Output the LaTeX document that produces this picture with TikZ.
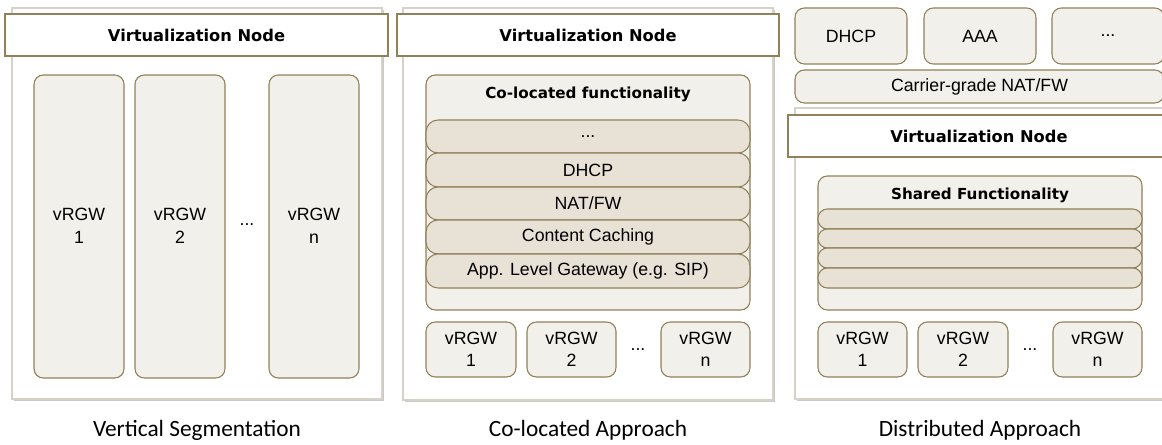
\documentclass[tikz,border=0pt]{standalone}
\usepackage{fontspec}
\setmainfont{Liberation Sans}
\newfontfamily\capfont{Carlito}
\newfontfamily\hdfont{DejaVu Sans}
\usetikzlibrary{fit,shadows,positioning}

\definecolor{brd}{RGB}{146,128,88}
\definecolor{cardfill}{RGB}{242,240,235}
\definecolor{stripfill}{RGB}{231,225,214}
\definecolor{panelline}{RGB}{214,210,200}

\begin{document}
\begin{tikzpicture}[x=0.75pt,y=-0.75pt,
    panel/.style={draw=panelline,fill=white,line width=0.8pt,inner sep=0pt,
        drop shadow={shadow xshift=1.6pt,shadow yshift=-1.6pt,fill=black!30,opacity=0.7}},
    hdr/.style={draw=brd,fill=white,line width=0.8pt,inner sep=0pt,
        label={[font=\hdfont\bfseries\fontsize{12.2}{14}\selectfont,inner sep=0pt]center:#1}},
    sub/.style={font=\hdfont\bfseries\fontsize{11.4}{13}\selectfont,inner sep=0pt},
    txt/.style={font=\fontsize{13.3}{16.8}\selectfont,align=center,inner sep=0pt},
    card/.style={draw=brd,fill=cardfill,line width=0.8pt,inner sep=0pt,
        rounded corners=7pt,label={[txt]center:#1}},
    card/.default={},
    strip/.style={draw=brd,fill=stripfill,line width=0.8pt,inner sep=0pt,
        rounded corners=9pt,label={[txt]center:#1}},
    strip/.default={},
    thin strip/.style={draw=brd,fill=stripfill,line width=0.8pt,inner sep=0pt,
        rounded corners=7pt},
    captxt/.style={font=\capfont\fontsize{17.5}{20}\selectfont,inner sep=0pt}]

    \useasboundingbox (0,0) rectangle (1162,445);

    % vertical segmentation
    \node[panel,fit={(12,8) (382,399)}] (p1) {};
    \node[hdr={Virtualization Node},fit={(5,14) (388,56)}] (h1) {};
    \node[card,fit={(34,75) (124,378)}] (c1) {};
    \node[card,fit={(135,75) (225,378)}] (c2) {};
    \node[card,fit={(269,75) (359,378)}] (c3) {};
    \node[txt] (c1t) at (79,226) {vRGW\\1};
    \node[txt] (c2t) at (180,226) {vRGW\\2};
    \node[txt] (c3t) at (314,226) {vRGW\\n};
    \node[txt] (d1) at (247,225) {...};
    \node[captxt] (cap1) at (197,430) {Vertical Segmentation};

    % co-located approach
    \node[panel,fit={(403,8) (773,400)}] (p2) {};
    \node[hdr={Virtualization Node},fit={(397,14) (779,56)}] (h2) {};
    \node[card,fit={(426,75) (750,310)}] (co) {};
    \node[sub] (cot) at (588,94) {Co-located functionality};
    \node[strip={...},fit={(426,120) (750,153)}] (s1) {};
    \node[strip={DHCP},fit={(426,153) (750,187)}] (s2) {};
    \node[strip={NAT/FW},fit={(426,187) (750,220)}] (s3) {};
    \node[strip={Content Caching},fit={(426,220) (750,254)}] (s4) {};
    \node[strip={App. Level Gateway (e.g. SIP)},fit={(426,254) (750,288)}] (s5) {};
    \node[card,fit={(426,322) (516,377)}] (g1) {};
    \node[card,fit={(527,322) (616,377)}] (g2) {};
    \node[card,fit={(661,322) (750,377)}] (g3) {};
    \node[txt] (g1t) at (g1) {vRGW\\1};
    \node[txt] (g2t) at (g2) {vRGW\\2};
    \node[txt] (g3t) at (g3) {vRGW\\n};
    \node[txt] (d2) at (638,350) {...};
    \node[captxt] (cap2) at (588,430) {Co-located Approach};

    % distributed approach
    \node[card={DHCP},fit={(795,8) (907,64)}] (dhcp) {};
    \node[card={AAA},fit={(924,8) (1036,64)}] (aaa) {};
    \node[card={...},fit={(1052,8) (1164,64)}] (more) {};
    \node[card={Carrier-grade NAT/FW},fit={(795,70) (1164,103)}] (cgn) {};
    \node[panel,fit={(795,108) (1165,399)}] (p3) {};
    \node[hdr={Virtualization Node},fit={(788,115) (1170,157)}] (h3) {};
    \node[card,fit={(818,176) (1142,310)}] (sh) {};
    \node[sub] (sht) at (980,195) {Shared Functionality};
    \node[thin strip,fit={(818,209) (1142,229)}] (t1) {};
    \node[thin strip,fit={(818,229) (1142,248)}] (t2) {};
    \node[thin strip,fit={(818,248) (1142,268)}] (t3) {};
    \node[thin strip,fit={(818,268) (1142,288)}] (t4) {};
    \node[card,fit={(818,322) (907,377)}] (e1) {};
    \node[card,fit={(918,322) (1008,377)}] (e2) {};
    \node[card,fit={(1053,322) (1142,377)}] (e3) {};
    \node[txt] (e1t) at (e1) {vRGW\\1};
    \node[txt] (e2t) at (e2) {vRGW\\2};
    \node[txt] (e3t) at (e3) {vRGW\\n};
    \node[txt] (d3) at (1030,350) {...};
    \node[captxt] (cap3) at (980,430) {Distributed Approach};
\end{tikzpicture}
\end{document}
